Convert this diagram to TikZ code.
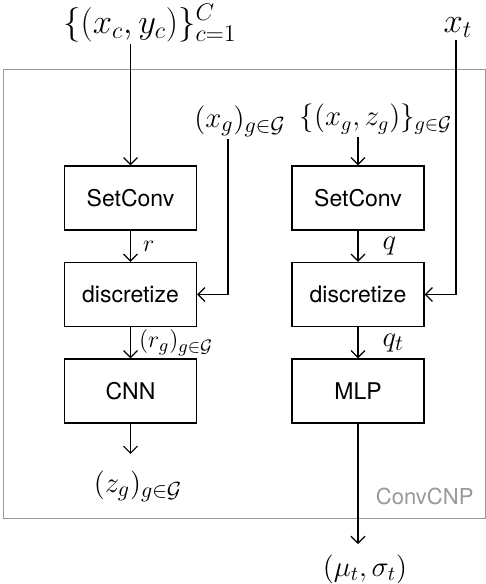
\documentclass[tikz,border=0pt]{standalone}
\usepackage{fontspec}
\setsansfont{TeX Gyre Heros}
\usetikzlibrary{calc}
\usetikzlibrary{arrows.meta}

\begin{document}
\begin{tikzpicture}[x=0.5pt,y=-0.5pt,line width=0.6pt,>={Straight Barb[length=3.5pt,width=7pt]},
  blok/.style={draw,minimum width=66pt,minimum height=32pt,inner sep=0pt,font=\sffamily\fontsize{11.5}{13}\selectfont},
  lab/.style={inner sep=1pt,font=\fontsize{#1}{#1}\selectfont},
  lab/.default=13]

\useasboundingbox (0,0) rectangle (486,584);
\draw[black!40,line width=0.5pt] (3,69) rectangle (485,518);
\node[anchor=east,inner sep=0pt,black!40,font=\sffamily\fontsize{11}{13}\selectfont] (cc) at (474,496) {ConvCNP};

\node[blok] (s1) at (130.5,198) {SetConv};
\node[blok] (d1) at (130.5,294.5) {discretize};
\node[blok] (c1) at (130.5,391) {CNN};
\node[blok] (s2) at (358,198) {SetConv};
\node[blok] (d2) at (358,294.5) {discretize};
\node[blok] (m2) at (358,391) {MLP};

\node[lab=16.5] (ctx) at (150,23) {$\{(x_c,y_c)\}_{c=1}^C$};
\node[lab=17,anchor=base] (xt) at (458,32) {$x_t$};
\node[lab=15] (xg) at (240,121) {$(x_g)_{g\in\mathcal{G}}$};
\node[lab=14.5] (xz) at (376,119) {$\{(x_g,z_g)\}_{g\in\mathcal{G}}$};
\node[lab=15.5] (zg) at (138,486) {$(z_g)_{g\in\mathcal{G}}$};
\node[lab=14.5] (out) at (365,569) {$(\mu_t,\sigma_t)$};

\draw[->] (ctx.south -| s1.north) -- (s1.north);
\draw[->] (xz.south -| s2.north) -- (s2.north);
\draw[->] ([xshift=-6pt]xg.south) |- (d1.east);
\draw[->] ([xshift=-1pt]xt.south) |- (d2.east);
\draw[->] (s1) -- (d1) node[midway,right=5pt,lab] {$r$};
\draw[->] (s2) -- (d2) node[midway,right=11pt,lab=15] {$q$};
\draw[->] (d1) -- (c1) node[midway,right=3pt,lab] {$(r_g)_{g\in\mathcal{G}}$};
\draw[->] (d2) -- (m2) node[midway,right=11pt,lab=15] {$q_t$};
\draw[->] (c1.south) -- ([yshift=7pt]c1.south |- zg.north);
\draw[->] (m2.south) -- ([yshift=4pt]m2.south |- out.north);

\end{tikzpicture}
\end{document}
